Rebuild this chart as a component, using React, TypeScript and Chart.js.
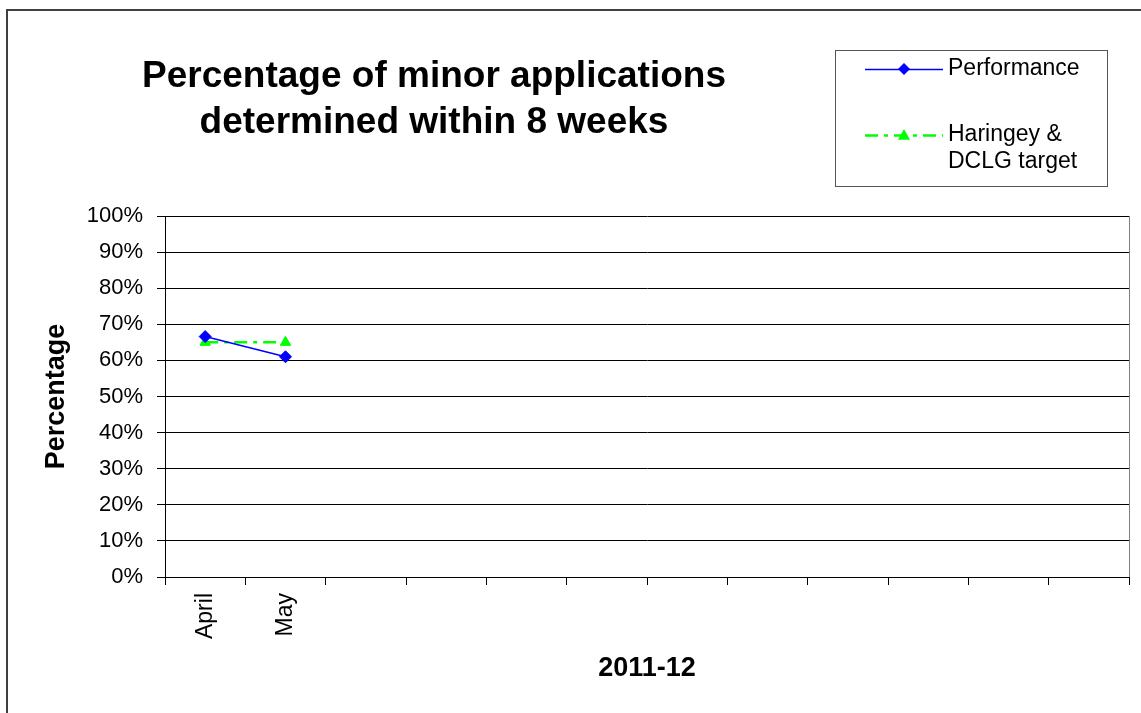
import React, { useEffect, useRef } from "react";
import { Chart, registerables } from "chart.js";

Chart.register(...registerables);

const MONTHS = ["April", "May", "", "", "", "", "", "", "", "", "", ""];
const PERFORMANCE = [66.6, 61.0, null, null, null, null, null, null, null, null, null, null];
const TARGET = [65, 65, null, null, null, null, null, null, null, null, null, null];
const SERIES_LABELS = ["Performance", "Haringey & DCLG target"];
const TITLE_LINES = ["Percentage of minor applications", "determined within 8 weeks"];
const Y_TITLE = "Percentage";
const X_TITLE = "2011-12";

const FONT = "Arial, 'Liberation Sans', sans-serif";

function drawMarker(ctx: CanvasRenderingContext2D, style: string, x: number, y: number, r: number, color: string) {
  ctx.save();
  ctx.fillStyle = color;
  ctx.beginPath();
  if (style === "rectRot") {
    ctx.moveTo(x, y - r);
    ctx.lineTo(x + r, y);
    ctx.lineTo(x, y + r);
    ctx.lineTo(x - r, y);
  } else {
    ctx.moveTo(x, y - r);
    ctx.lineTo(x + r, y + r * 0.8);
    ctx.lineTo(x - r, y + r * 0.8);
  }
  ctx.closePath();
  ctx.fill();
  ctx.restore();
}

const decorPlugin = {
  id: "decor",
  beforeDraw(chart: any) {
    const ctx = chart.ctx as CanvasRenderingContext2D;
    ctx.save();
    ctx.fillStyle = "#ffffff";
    ctx.fillRect(0, 0, chart.width, chart.height);
    // outer frame (left & top visible)
    ctx.fillStyle = "#404040";
    ctx.fillRect(6, 9, chart.width, 2);
    ctx.fillRect(6, 9, 2, chart.height);
    ctx.restore();
  },
  afterDraw(chart: any) {
    const ctx = chart.ctx as CanvasRenderingContext2D;
    const area = chart.chartArea;
    ctx.save();
    // plot frame right edge
    ctx.strokeStyle = "#808080";
    ctx.lineWidth = 1;
    ctx.beginPath();
    ctx.moveTo(Math.round(area.right) + 0.5, area.top);
    ctx.lineTo(Math.round(area.right) + 0.5, area.bottom);
    ctx.stroke();

    // title
    ctx.fillStyle = "#000";
    ctx.font = `bold 37px ${FONT}`;
    ctx.textAlign = "center";
    ctx.textBaseline = "alphabetic";
    ctx.fillText(TITLE_LINES[0], 434, 87);
    ctx.fillText(TITLE_LINES[1], 434, 133);

    // legend box
    ctx.strokeStyle = "#555";
    ctx.lineWidth = 1;
    ctx.strokeRect(835.5, 50.5, 272, 136);
    const ds = chart.data.datasets;
    const rows = [
      { y: 69, lines: [ds[0].label], textY: [69] },
      { y: 135, lines: ["Haringey &", "DCLG target"], textY: [135, 162] },
    ];
    rows.forEach((row, i) => {
      const d = ds[i];
      ctx.save();
      ctx.strokeStyle = d.borderColor;
      ctx.lineWidth = d.borderWidth;
      ctx.setLineDash(d.borderDash || []);
      ctx.beginPath();
      ctx.moveTo(865, row.y + 0.5);
      ctx.lineTo(943, row.y + 0.5);
      ctx.stroke();
      ctx.restore();
      drawMarker(ctx, d.pointStyle, 904, row.y, d.pointRadius, d.pointBackgroundColor);
      ctx.fillStyle = "#000";
      ctx.font = `23px ${FONT}`;
      ctx.textAlign = "left";
      ctx.textBaseline = "middle";
      row.lines.forEach((t, j) => ctx.fillText(t, 948, row.textY[j]));
    });
    ctx.restore();
  },
};

export default function App() {
  const ref = useRef<HTMLCanvasElement>(null);
  useEffect(() => {
    if (!ref.current) return;
    const chart = new Chart(ref.current, {
      type: "line",
      data: {
        labels: MONTHS,
        datasets: [
          {
            label: SERIES_LABELS[0],
            data: PERFORMANCE,
            borderColor: "#0000ff",
            backgroundColor: "#0000ff",
            borderWidth: 1.5,
            pointStyle: "rectRot",
            pointRadius: 6,
            pointBackgroundColor: "#0000ff",
            pointBorderColor: "#0000ff",
            pointBorderWidth: 1,
            spanGaps: false,
          },
          {
            label: SERIES_LABELS[1],
            data: TARGET,
            borderColor: "#00ff00",
            backgroundColor: "#00ff00",
            borderWidth: 2.5,
            borderDash: [13, 6, 4, 6],
            pointStyle: "triangle",
            pointRadius: 6,
            pointBackgroundColor: "#00ff00",
            pointBorderColor: "#00ff00",
            pointBorderWidth: 1,
          },
        ],
      },
      options: {
        animation: false,
        responsive: false,
        maintainAspectRatio: false,
        layout: { padding: { top: 216, right: 12, left: 0, bottom: 0 } },
        plugins: {
          legend: { display: false },
          title: { display: false },
          tooltip: { enabled: false },
        },
        scales: {
          x: {
            type: "category",
            offset: true,
            grid: {
              offset: true,
              drawOnChartArea: false,
              drawTicks: true,
              tickLength: 8,
              color: "#000",
            },
            border: { color: "#000", width: 1 },
            ticks: {
              autoSkip: false,
              maxRotation: 90,
              minRotation: 90,
              padding: 8,
              color: "#000",
              font: { family: FONT, size: 23 },
            },
            title: {
              display: true,
              text: X_TITLE,
              color: "#000",
              font: { family: FONT, size: 27, weight: "bold" },
              padding: { top: 0, bottom: 28 },
            },
            afterFit(scale: any) {
              scale.height = 136;
            },
          },
          y: {
            min: 0,
            max: 100,
            grid: { color: "#000", tickLength: 8, lineWidth: 1 },
            border: { color: "#000", width: 1 },
            ticks: {
              stepSize: 10,
              padding: 14,
              color: "#000",
              font: { family: FONT, size: 22 },
              callback: (v: any) => `${v}%`,
            },
            title: {
              display: true,
              text: Y_TITLE,
              color: "#000",
              font: { family: FONT, size: 27, weight: "bold" },
              padding: { top: 40, bottom: 0 },
            },
            afterFit(scale: any) {
              scale.width = 165;
            },
          },
        },
      },
      plugins: [decorPlugin],
    });
    return () => chart.destroy();
  }, []);
  return (
    <div style={{ position: "absolute", left: 0, top: 0, width: 1141, height: 713 }}>
      <canvas ref={ref} width={1141} height={713} style={{ display: "block" }} />
    </div>
  );
}
